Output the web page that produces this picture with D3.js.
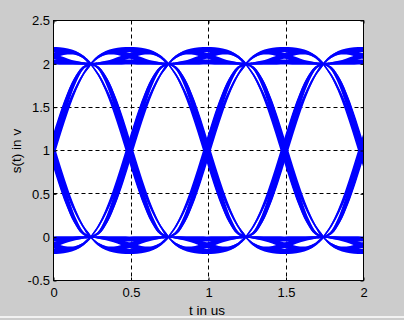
<!DOCTYPE html>
<html><head><meta charset="utf-8">
<script src="https://cdn.jsdelivr.net/npm/d3@7"></script>
<style>html,body{margin:0;padding:0;background:#cccccc;} svg{display:block;}</style>
</head><body>
<svg id="chart" width="404" height="320"></svg>
<script>
// ---------- data ----------
const xTicks = [0, 0.5, 1, 1.5, 2];
const xTickLabels = ["0", "0.5", "1", "1.5", "2"];
const yTicks = [-0.5, 0, 0.5, 1, 1.5, 2, 2.5];
const yTickLabels = ["-0.5", "0", "0.5", "1", "1.5", "2", "2.5"];
const xLabel = "t in us";
const yLabel = "s(t) in v";

// start of each symbol window (sampling instants, us)
const sampleInstants = [-0.26, 0.24, 0.74, 1.24, 1.74];
// time offsets inside one symbol window (us)
const offsets = [0, 0.05, 0.10, 0.15, 0.20, 0.25, 0.30, 0.35, 0.40, 0.45, 0.50];

// traces that stay at the high level (2 -> 2)
const highHold = [
  [2, 2.003, 2.009, 2.015, 2.019, 2.021, 2.019, 2.015, 2.009, 2.003, 2],
  [2, 2.082, 2.130, 2.153, 2.163, 2.165, 2.163, 2.153, 2.130, 2.082, 2],
  [2, 2.003, 2.014, 2.035, 2.063, 2.093, 2.119, 2.133, 2.124, 2.083, 2],
  [2, 2.083, 2.124, 2.133, 2.119, 2.093, 2.063, 2.035, 2.014, 2.003, 2]
];
// traces that stay at the low level (0 -> 0)
const lowHold = [
  [0, -0.003, -0.009, -0.015, -0.019, -0.021, -0.019, -0.015, -0.009, -0.003, 0],
  [0, -0.082, -0.130, -0.153, -0.163, -0.165, -0.163, -0.153, -0.130, -0.082, 0],
  [0, -0.003, -0.014, -0.035, -0.063, -0.093, -0.119, -0.133, -0.124, -0.083, 0],
  [0, -0.083, -0.124, -0.133, -0.119, -0.093, -0.063, -0.035, -0.014, -0.003, 0]
];
// falling traces (2 -> 0)
const falls = [
  [2, 1.874, 1.697, 1.473, 1.211, 0.928, 0.645, 0.389, 0.182, 0.048, 0],
  [2, 1.952, 1.818, 1.611, 1.355, 1.072, 0.789, 0.527, 0.303, 0.126, 0],
  [2, 1.873, 1.702, 1.493, 1.254, 1.000, 0.746, 0.507, 0.298, 0.127, 0],
  [2, 1.953, 1.812, 1.591, 1.311, 1.000, 0.689, 0.409, 0.188, 0.047, 0]
];
// rising traces (0 -> 2)
const rises = [
  [0, 0.126, 0.303, 0.527, 0.789, 1.072, 1.355, 1.611, 1.818, 1.952, 2],
  [0, 0.048, 0.182, 0.389, 0.645, 0.928, 1.211, 1.473, 1.697, 1.874, 2],
  [0, 0.127, 0.298, 0.507, 0.746, 1.000, 1.254, 1.493, 1.702, 1.873, 2],
  [0, 0.047, 0.188, 0.409, 0.689, 1.000, 1.311, 1.591, 1.812, 1.953, 2]
];

// ---------- layout ----------
const W = 404, H = 320;
const L = 53.5, R = 363.5, T = 20.5, B = 280.5;
const FONT = "'Liberation Sans', Arial, Helvetica, sans-serif";
const BLUE = "#0000ff";

const svg = d3.select("#chart");
svg.append("rect").attr("width", W).attr("height", H).attr("fill", "#cccccc");
svg.append("rect").attr("x", 0).attr("y", 316).attr("width", W).attr("height", 2).attr("fill", "#f2f2f2");
svg.append("rect").attr("x", L).attr("y", T).attr("width", R - L).attr("height", B - T).attr("fill", "#ffffff");

const x = d3.scaleLinear().domain([0, 2]).range([L, R]);
const y = d3.scaleLinear().domain([-0.5, 2.5]).range([B, T]);

// ---------- grid ----------
const snap = v => Math.floor(v) + 0.5;
const grid = svg.append("g").attr("stroke", "#000").attr("stroke-width", 1)
  .attr("stroke-dasharray", "4,3").attr("fill", "none");
xTicks.filter(d => d > 0 && d < 2).forEach(d => {
  grid.append("line").attr("x1", snap(x(d))).attr("x2", snap(x(d))).attr("y1", T).attr("y2", B);
});
yTicks.filter(d => d > -0.5 && d < 2.5).forEach(d => {
  grid.append("line").attr("y1", snap(y(d))).attr("y2", snap(y(d))).attr("x1", L).attr("x2", R);
});

// ---------- traces ----------
svg.append("defs").append("clipPath").attr("id", "clip")
  .append("rect").attr("x", L).attr("y", T).attr("width", R - L).attr("height", B - T);
const traces = svg.append("g").attr("clip-path", "url(#clip)");

const curve = d3.line().curve(d3.curveCatmullRom.alpha(0.5));

function bandPath(pts, hw) {
  const n = pts.length, left = [], right = [];
  for (let i = 0; i < n; i++) {
    const a = pts[Math.max(i - 1, 0)], b = pts[Math.min(i + 1, n - 1)];
    let tx = b[0] - a[0], ty = b[1] - a[1];
    const len = Math.hypot(tx, ty) || 1; tx /= len; ty /= len;
    const nx = -ty, ny = tx;
    left.push([pts[i][0] + nx * hw[i], pts[i][1] + ny * hw[i]]);
    right.push([pts[i][0] - nx * hw[i], pts[i][1] - ny * hw[i]]);
  }
  return curve(left.concat(right.reverse())) + "Z";
}

// stroke thickness profile (style only)
function widthProfile(v, isLevel) {
  const n = v.length;
  const flatStart = Math.abs(v[1] - v[0]) < 0.1;
  const flatEnd = Math.abs(v[n - 1] - v[n - 2]) < 0.1;
  const ks = flatStart ? 2.0 : 0.6, ke = flatEnd ? 2.0 : 0.6;
  return v.map((_, i) => {
    const u = i / (n - 1);
    const bump = Math.sin(Math.PI * u);
    if (isLevel) return 0.6 + 2.0 * bump;
    return 0.6 + bump * (ks * (1 - u) + ke * u);
  });
}

const families = [
  { strands: highHold, level: true },
  { strands: lowHold, level: true },
  { strands: falls, level: false },
  { strands: rises, level: false }
];

sampleInstants.forEach(s => {
  families.forEach(f => {
    f.strands.forEach(v => {
      const pts = v.map((val, i) => [x(s + offsets[i]), y(val)]);
      traces.append("path")
        .attr("d", bandPath(pts, widthProfile(v, f.level)))
        .attr("fill", BLUE);
    });
  });
});

// ---------- axes ----------
function styleAxis(g) {
  g.select(".domain").remove();
  g.attr("font-family", FONT).attr("font-size", 13);
  g.selectAll(".tick line").attr("stroke", "#000");
  g.selectAll(".tick text").attr("fill", "#000");
}
svg.append("g").attr("transform", `translate(0,${B})`)
  .call(d3.axisBottom(x).tickValues(xTicks).tickFormat((d, i) => xTickLabels[i])
    .tickSizeInner(-3).tickSizeOuter(0).tickPadding(7.5))
  .call(styleAxis);
svg.append("g").attr("transform", `translate(0,${T})`)
  .call(d3.axisTop(x).tickValues(xTicks).tickFormat("").tickSizeInner(-3).tickSizeOuter(0))
  .call(styleAxis);
svg.append("g").attr("transform", `translate(${L},0)`)
  .call(d3.axisLeft(y).tickValues(yTicks).tickFormat((d, i) => yTickLabels[i])
    .tickSizeInner(-3).tickSizeOuter(0).tickPadding(3.5))
  .call(styleAxis);
svg.append("g").attr("transform", `translate(${R},0)`)
  .call(d3.axisRight(y).tickValues(yTicks).tickFormat("").tickSizeInner(-3).tickSizeOuter(0))
  .call(styleAxis);

svg.append("rect").attr("x", L).attr("y", T).attr("width", R - L).attr("height", B - T)
  .attr("fill", "none").attr("stroke", "#000").attr("stroke-width", 1);

// ---------- labels ----------
svg.append("text").attr("x", 207).attr("y", 315).attr("text-anchor", "middle")
  .attr("font-family", FONT).attr("font-size", 13.5).attr("fill", "#000").text(xLabel);
svg.append("text").attr("transform", "translate(21,151) rotate(-90)").attr("text-anchor", "middle")
  .attr("font-family", FONT).attr("font-size", 13.5).attr("fill", "#000").text(yLabel);
</script>
</body></html>
